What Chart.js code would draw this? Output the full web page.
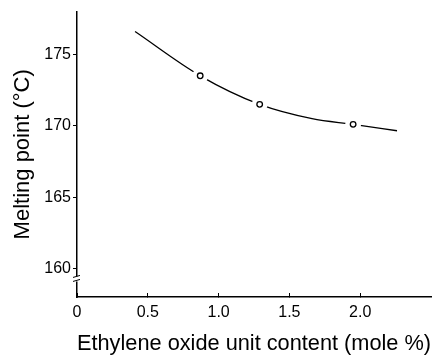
<!DOCTYPE html>
<html>
<head>
<meta charset="utf-8">
<script src="https://cdn.jsdelivr.net/npm/chart.js@4"></script>
<style>
html,body{margin:0;padding:0;background:#fff;}
#wrap{width:439px;height:355px;}
</style>
</head>
<body>
<div id="wrap"><canvas id="c" width="439" height="355"></canvas></div>
<script>
// Data
const pointX = [0.87, 1.29, 1.95];
const pointY = [173.5, 171.5, 170.1];
const curveX = [0.41, 0.87, 1.29, 1.66, 1.95, 2.26];
const curveY = [176.6, 173.5, 171.5, 170.5, 170.1, 169.65];
const xTicks = [0, 0.5, 1.0, 1.5, 2.0];
const xTickLabels = ['0', '0.5', '1.0', '1.5', '2.0'];
const yTicks = [160, 165, 170, 175];
const yTickLabels = ['160', '165', '170', '175'];

const toXY = (xs, ys) => xs.map((x, i) => ({x: x, y: ys[i]}));

const breakPlugin = {
  id: 'axisBreak',
  afterDraw(chart) {
    const ctx = chart.ctx;
    const y = chart.scales.y;
    const x0 = chart.scales.x.getPixelForValue(0);
    const yp = y.getPixelForValue(159.3);
    ctx.save();
    ctx.strokeStyle = '#000';
    ctx.lineWidth = 1;
    ctx.fillStyle = '#fff';
    ctx.fillRect(x0 - 3, yp - 2, 6, 5);
    ctx.beginPath();
    ctx.moveTo(x0 - 4, yp - 1); ctx.lineTo(x0 + 3, yp - 3);
    ctx.moveTo(x0 - 4, yp + 3); ctx.lineTo(x0 + 3, yp + 1);
    ctx.stroke();
    ctx.restore();
  }
};

new Chart(document.getElementById('c'), {
  type: 'scatter',
  data: {
    datasets: [
      {
        data: toXY(pointX, pointY),
        pointStyle: 'circle',
        pointRadius: 2.8,
        pointBorderWidth: 1.3,
        pointBorderColor: '#000',
        pointBackgroundColor: '#fff',
        showLine: false,
        order: 0
      },
      {
        data: toXY(pointX, pointY),
        pointRadius: 8,
        pointBorderWidth: 0,
        pointBackgroundColor: '#fff',
        pointBorderColor: '#fff',
        showLine: false,
        order: 1
      },
      {
        data: toXY(curveX, curveY),
        showLine: true,
        borderColor: '#000',
        borderWidth: 1.3,
        pointRadius: 0,
        cubicInterpolationMode: 'monotone',
        fill: false,
        order: 2
      }
    ]
  },
  options: {
    responsive: false,
    animation: false,
    events: [],
    layout: {padding: {top: 10, right: 7, left: 0, bottom: 0}},
    plugins: {legend: {display: false}, tooltip: {enabled: false}},
    scales: {
      x: {
        type: 'linear',
        min: 0, max: 2.5,
        afterBuildTicks: s => { s.ticks = xTicks.map(v => ({value: v})); },
        afterFit: s => { s.height = 58; },
        border: {color: '#000', width: 1.5},
        grid: {drawOnChartArea: false, color: '#000', tickLength: -4, lineWidth: 1},
        ticks: {
          color: '#000',
          padding: 10,
          maxRotation: 0,
          font: {family: 'Liberation Sans', size: 16},
          callback: (v) => { const i = xTicks.indexOf(v); return i >= 0 ? xTickLabels[i] : ''; }
        },
        title: {
          display: true,
          text: 'Ethylene oxide unit content (mole %)',
          color: '#000',
          font: {family: 'Liberation Sans', size: 22},
          padding: {top: 0, bottom: -2}
        }
      },
      y: {
        type: 'linear',
        min: 158, max: 178,
        afterBuildTicks: s => { s.ticks = yTicks.map(v => ({value: v})); },
        afterFit: s => { s.width = 77; },
        border: {color: '#000', width: 1.5},
        grid: {drawOnChartArea: false, color: '#000', tickLength: 4, lineWidth: 1},
        ticks: {
          color: '#000',
          padding: 2,
          font: {family: 'Liberation Sans', size: 16},
          callback: (v) => { const i = yTicks.indexOf(v); return i >= 0 ? yTickLabels[i] : ''; }
        },
        title: {
          display: true,
          text: 'Melting point (°C)',
          color: '#000',
          font: {family: 'Liberation Sans', size: 22},
          padding: {top: 10, bottom: 0}
        }
      }
    }
  },
  plugins: [breakPlugin]
});
</script>
</body>
</html>
